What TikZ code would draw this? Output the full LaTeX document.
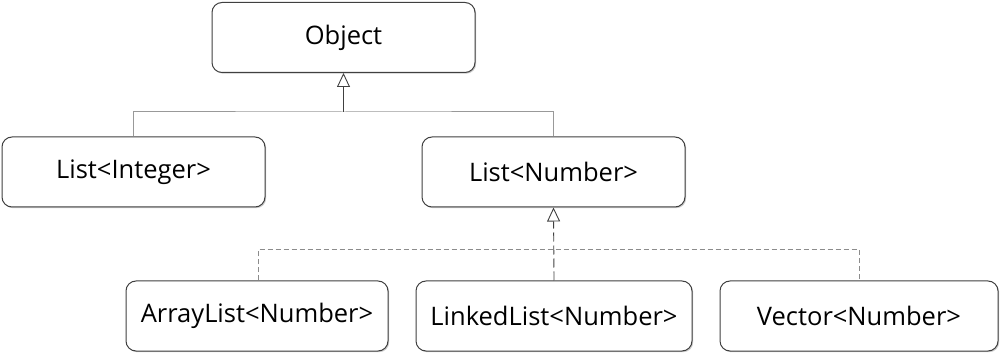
\documentclass[tikz,border=0pt]{standalone}
\usepackage{fontspec}
\setmainfont{Open Sans}
\usetikzlibrary{arrows.meta,shadows}
\begin{document}
\begin{tikzpicture}[x=1pt,y=-1pt,
  cls/.style={draw=black!75,line width=1pt,rounded corners=10pt,fill=white,
    drop shadow={shadow xshift=1.2pt,shadow yshift=-1.2pt,fill=black!35,opacity=0.6},
    minimum height=70pt,inner sep=0pt,font=\fontsize{25.5}{28}\selectfont},
  gen/.style={-{Triangle[open,length=14pt,width=13pt]},draw=black!75,line width=0.9pt},
  tree/.style={draw=black!40,line width=1pt},
  dtree/.style={draw=black!45,line width=1pt,dash pattern=on 5pt off 3pt},
  dgen/.style={gen,dash pattern=on 9pt off 4pt}]
\useasboundingbox (0,0) rectangle (1001,355);
\node[cls,minimum width=263pt] (obj) at (343.5,37.5) {Object};
\node[cls,minimum width=263pt] (li) at (133.5,172) {List<Integer>};
\node[cls,minimum width=263pt] (ln) at (553.5,172) {List<Number>};
\node[cls,minimum width=262pt] (al) at (257,316) {ArrayList<Number>};
\node[cls,minimum width=276pt] (ll) at (554,316) {LinkedList<Number>};
\node[cls,minimum width=278pt] (vec) at (859,316) {Vector<Number>};
\coordinate (j1) at (343.5,112);
\draw[tree] (li.north) |- (j1) -| (ln.north);
\draw[gen] (j1) -- (obj.south);
\coordinate (j2) at (554,250);
\draw[dtree] ([xshift=1pt]al.north) |- (j2) -| (vec.north);
\draw[dgen] (ll.north) -- (ln.south);
\end{tikzpicture}
\end{document}
